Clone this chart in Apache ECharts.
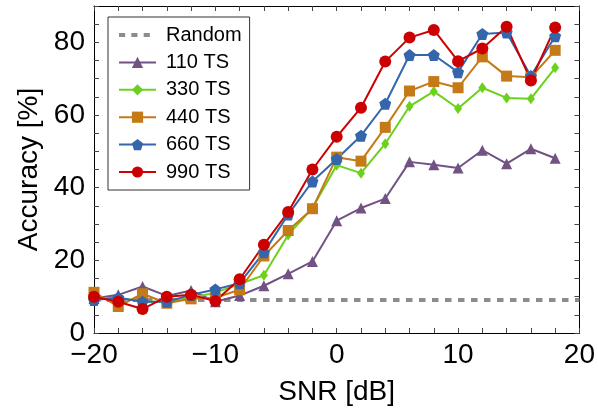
<!DOCTYPE html>
<html><head><meta charset="utf-8">
<script src="https://cdn.jsdelivr.net/npm/echarts@6/dist/echarts.min.js"></script>
<style>html,body{margin:0;padding:0;background:#fff}#c{width:598px;height:413px}</style>
</head><body><div id="c"></div>
<script>
const snr = [-20,-18,-16,-14,-12,-10,-8,-6,-4,-2,0,2,4,6,8,10,12,14,16,18];
const randomLevel = 9.09;
const ts110 = [9.5,10.5,12.8,10.2,11.7,8.6,10.3,13.0,16.3,19.7,30.9,34.4,37.0,47.1,46.3,45.4,50.3,46.6,50.7,48.1];
const ts330 = [9.5,9.7,8.6,8.6,9.7,11.1,13.5,15.9,27.0,34.4,46.2,44.0,52.1,62.4,66.5,61.8,67.5,64.7,64.5,73.0];
const ts440 = [11.2,7.3,10.8,8.2,9.4,9.7,11.9,21.2,28.2,34.2,48.4,47.3,56.6,66.6,69.2,67.5,76.0,70.7,70.4,77.8];
const ts660 = [9.1,9.7,8.6,8.6,10.5,12.0,13.7,22.2,32.6,41.7,47.9,54.3,63.1,76.5,76.5,71.8,82.3,82.7,70.7,81.7];
const ts990 = [10.0,8.6,6.6,10.0,10.5,8.8,14.8,24.3,33.3,45.0,54.0,62.0,74.7,81.3,83.4,74.8,78.3,84.3,69.5,84.1];
const xTicks = [-20,-10,0,10,20];
const yTicks = [0,20,40,60,80];

const pair = arr => snr.map((x,i)=>[x,arr[i]]);
const FONT = 'Liberation Sans';
const pentagon = 'path://M0,-10 L9.51,-3.09 L5.88,8.09 L-5.88,8.09 L-9.51,-3.09 Z';
const dashIcon = 'path://M0,0h6.5v4h-6.5z M13,0h6.5v4h-6.5z M26,0h6.5v4h-6.5z M39,0h0.01v4h-0.01z';

function mkSeries(name, arr, color, symbol, size){
  return {name, type:'line', data:pair(arr), symbol, symbolSize:size,
    lineStyle:{color, width:2}, itemStyle:{color}, animation:false};
}
const axCommon = {axisLine:{show:true,onZero:false,lineStyle:{color:'#000',width:1}},
  axisTick:{show:true,inside:true,length:5,lineStyle:{color:'#444'}}, splitLine:{show:false}};

const chart = echarts.init(document.getElementById('c'), null, {renderer:'canvas'});
chart.setOption({
  animation:false,
  textStyle:{fontFamily:FONT},
  grid:{left:94,right:16,top:6,bottom:80,containLabel:false},
  xAxis:[
    Object.assign({type:'value',min:-20,max:20,interval:2,position:'bottom',
      name:'SNR [dB]',nameLocation:'middle',nameGap:45,
      nameTextStyle:{fontSize:28,color:'#000',fontFamily:FONT},
      axisLabel:{fontSize:28,color:'#000',fontFamily:FONT,margin:8,
        formatter:v=>xTicks.includes(v)?(v<0?'\u2212'+Math.abs(v):String(v)):''}},axCommon),
    Object.assign({type:'value',min:-20,max:20,interval:2,position:'top',axisLabel:{show:false}},axCommon)
  ],
  yAxis:[
    Object.assign({type:'value',min:0,max:90,interval:5,position:'left',
      name:'Accuracy [%]',nameLocation:'middle',nameGap:50,nameRotate:90,
      nameTextStyle:{fontSize:28,color:'#000',fontFamily:FONT},
      axisLabel:{fontSize:28,color:'#000',fontFamily:FONT,margin:9,
        formatter:v=>yTicks.includes(v)?String(v):''}},axCommon),
    Object.assign({type:'value',min:0,max:90,interval:5,position:'right',axisLabel:{show:false}},axCommon)
  ],
  legend:{orient:'vertical',left:108,top:17,padding:[8,8,8,10],
    itemWidth:37,itemHeight:14,itemGap:7.4,
    borderColor:'#333',borderWidth:1,backgroundColor:'#fff',
    textStyle:{fontSize:20,color:'#000',fontFamily:FONT,padding:[0,0,0,5]},
    data:[{name:'Random',icon:dashIcon,itemStyle:{color:'#8c8c8c'}},'110 TS','330 TS','440 TS','660 TS','990 TS']},
  series:[
    {name:'Random',type:'line',data:[[-20,randomLevel],[20,randomLevel]],symbol:'none',
     lineStyle:{color:'#8c8c8c',width:4,type:[6.5,6.5]},itemStyle:{color:'#8c8c8c'}},
    mkSeries('110 TS', ts110, '#715282', 'triangle', 11),
    mkSeries('330 TS', ts330, '#6bd11d', 'diamond', [8,11]),
    mkSeries('440 TS', ts440, '#c47a16', 'rect', 11),
    mkSeries('660 TS', ts660, '#3566ab', pentagon, 12),
    mkSeries('990 TS', ts990, '#cc0000', 'circle', 12)
  ]
});
</script></body></html>
